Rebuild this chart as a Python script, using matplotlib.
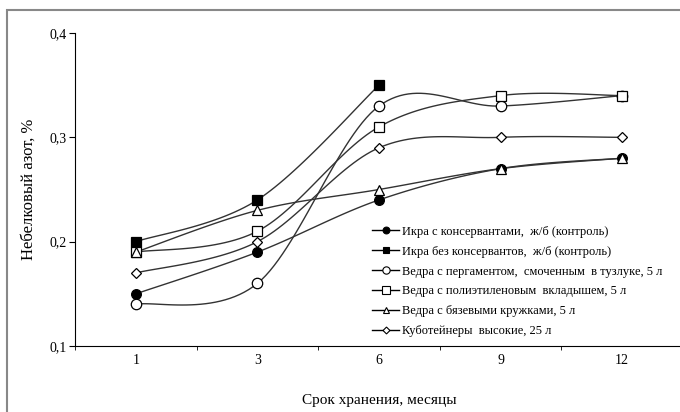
import numpy as np
import matplotlib
matplotlib.use("Agg")
import matplotlib.pyplot as plt
from matplotlib.patches import Rectangle

plt.rcParams['font.family'] = ['Liberation Serif', 'DejaVu Serif']

months = ['1', '3', '6', '9', '12']
y_ticks = [0.1, 0.2, 0.3, 0.4]
y_labels = ['0,1', '0,2', '0,3', '0,4']

ikra_kons = [0.15, 0.19, 0.24, 0.27, 0.28]
ikra_bez = [0.20, 0.24, 0.35]
vedra_perg = [0.14, 0.16, 0.33, 0.33, 0.34]
vedra_poly = [0.19, 0.21, 0.31, 0.34, 0.34]
vedra_byaz = [0.19, 0.23, 0.25, 0.27, 0.28]
kubo = [0.17, 0.20, 0.29, 0.30, 0.30]

names = ['Икра с консервантами,  ж/б (контроль)',
         'Икра без консервантов,  ж/б (контроль)',
         'Ведра с пергаментом,  смоченным  в тузлуке, 5 л',
         'Ведра с полиэтиленовым  вкладышем, 5 л',
         'Ведра с бязевыми кружками, 5 л',
         'Кубoтейнеры  высокие, 25 л'.replace('o', 'о')]


def smooth(xs, ys, n=30):
    # excel-like smoothed line: bezier segments with catmull-rom control points
    xs = np.asarray(xs, float)
    ys = np.asarray(ys, float)
    px, py = [], []
    m = len(xs)
    for i in range(m - 1):
        a = max(i - 1, 0)
        d = min(i + 2, m - 1)
        c1x = xs[i] + (xs[i + 1] - xs[a]) / 6
        c1y = ys[i] + (ys[i + 1] - ys[a]) / 6
        c2x = xs[i + 1] - (xs[d] - xs[i]) / 6
        c2y = ys[i + 1] - (ys[d] - ys[i]) / 6
        t = np.linspace(0, 1, n)
        bx = (1 - t) ** 3 * xs[i] + 3 * (1 - t) ** 2 * t * c1x + 3 * (1 - t) * t ** 2 * c2x + t ** 3 * xs[i + 1]
        by = (1 - t) ** 3 * ys[i] + 3 * (1 - t) ** 2 * t * c1y + 3 * (1 - t) * t ** 2 * c2y + t ** 3 * ys[i + 1]
        px.extend(bx)
        py.extend(by)
    return px, py


fig = plt.figure(figsize=(6.8, 4.12), dpi=100)
ax = fig.add_axes([75 / 680, 1 - 346 / 412, 608 / 680, 313 / 412])

series = [ikra_kons, ikra_bez, vedra_perg, vedra_poly, vedra_byaz, kubo]
markers = ['o', 's', 'o', 's', '^', 'D']
faces = ['black', 'black', 'white', 'white', 'white', 'white']
sizes = [7, 7, 7.5, 7.5, 7, 5]

handles = []
for vals, mk, fc, ms, nm in zip(series, markers, faces, sizes, names):
    x = np.arange(len(vals))
    sx, sy = smooth(x, vals)
    ax.plot(sx, sy, color='#333333', lw=1.0, zorder=2)
    ax.plot(x, vals, linestyle='none', marker=mk, ms=ms, mfc=fc, mec='black', mew=0.9, zorder=3)
    h, = ax.plot([], [], color='black', lw=1.0, marker=mk, ms=ms * 0.7, mfc=fc, mec='black', mew=0.8, label=nm)
    handles.append(h)

ax.set_xlim(-0.5, 4.5)
ax.set_ylim(0.1, 0.4)
ax.set_xticks(np.arange(5))
ax.set_xticklabels(months, fontsize=10)
ax.set_xticks(np.arange(-0.5, 4.6, 1), minor=True)
ax.tick_params(axis='x', which='major', length=0, pad=6)
ax.tick_params(axis='x', which='minor', length=3, direction='out')
ax.set_yticks(y_ticks)
ax.set_yticklabels(y_labels, fontsize=10)
ax.tick_params(axis='y', length=4, direction='out', pad=2)
ax.spines['top'].set_visible(False)
ax.spines['right'].set_visible(False)
ax.set_ylabel('Небелковый азот, %', fontsize=12, labelpad=9)
ax.set_xlabel('Срок хранения, месяцы', fontsize=11, labelpad=19)

ax.legend(handles=handles, loc='upper left', bbox_to_anchor=(0.48, 0.40), frameon=False,
          fontsize=9, handlelength=2.2, handletextpad=0.2, labelspacing=0.63, borderaxespad=0)

fig.patches.append(Rectangle((7 / 680, -0.05), 1.0, 1 - 10 / 412 + 0.05, transform=fig.transFigure,
                             fill=False, edgecolor='#888888', lw=1.5))

fig.savefig('out.png', dpi=100)
